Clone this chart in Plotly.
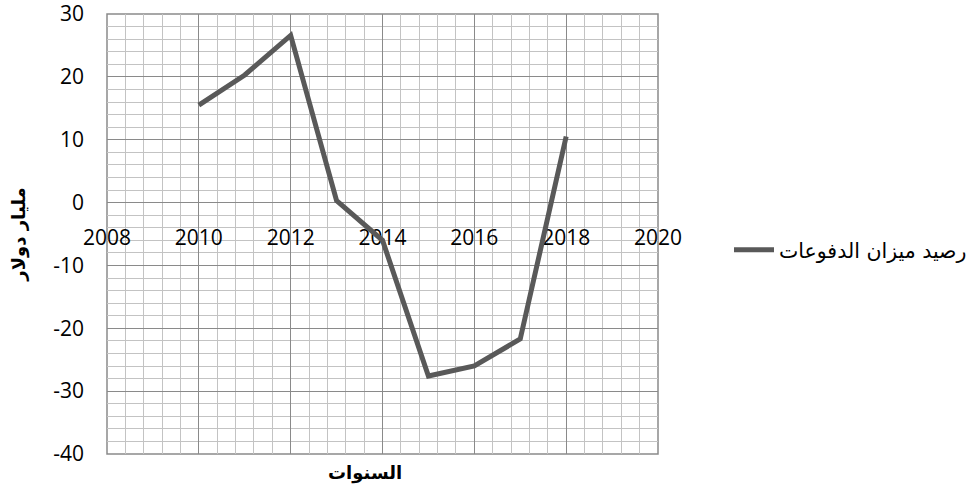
import plotly.graph_objects as go

years = [2010, 2011, 2012, 2013, 2014, 2015, 2016, 2017, 2018]
balance = [15.5, 20.3, 26.6, 0.3, -6.0, -27.6, -26.0, -21.7, 10.5]
series_name = "رصيد ميزان الدفوعات"
x_title = "السنوات"
y_title = "مليار دولار"
x_ticks = [2008, 2010, 2012, 2014, 2016, 2018, 2020]
y_ticks = [-40, -30, -20, -10, 0, 10, 20, 30]

W, H = 979, 488
L, R, T, B = 107, 321, 14, 34
PW, PH = W - L - R, H - T - B

fig = go.Figure()
fig.add_trace(go.Scatter(
    x=years, y=balance, mode="lines", name=series_name,
    line=dict(color="#595959", width=5),
    showlegend=True,
))

tick_font = dict(family="Open Sans, Lato, sans-serif", size=21, color="#000000")
major = "#8a8a8a"
minor = "#c3c3c3"

fig.update_layout(
    width=W, height=H,
    margin=dict(l=L, r=R, t=T, b=B, autoexpand=False),
    paper_bgcolor="white", plot_bgcolor="white",
    showlegend=True,
    legend=dict(
        x=(729 - L) / PW, y=(H - 250 - B) / PH,
        xanchor="left", yanchor="middle",
        font=dict(family="DejaVu Sans, sans-serif", size=20.5, color="#000"),
        bgcolor="rgba(0,0,0,0)", itemwidth=40,
    ),
    xaxis=dict(
        range=[2008, 2020], tickvals=x_ticks, ticktext=[str(v) for v in x_ticks],
        showgrid=True, gridcolor=major, gridwidth=1,
        minor=dict(dtick=0.4, tick0=2008, showgrid=True, gridcolor=minor, gridwidth=1.3),
        zeroline=False, showline=False, ticks="",
        anchor="free", position=40 / 70, side="bottom",
        tickfont=tick_font, ticklabelstandoff=20, ticklabeloverflow="allow",
        layer="below traces",
    ),
    yaxis=dict(
        range=[-40, 30], tickvals=y_ticks, ticktext=[str(v) for v in y_ticks],
        showgrid=True, gridcolor=major, gridwidth=1,
        minor=dict(dtick=2, tick0=-40, showgrid=True, gridcolor=minor, gridwidth=1.3),
        zeroline=True, zerolinecolor=major, zerolinewidth=1,
        showline=False, ticks="",
        tickfont=tick_font, ticklabelstandoff=22, ticklabeloverflow="allow",
        title=dict(text="<b>" + y_title + "</b>", standoff=22,
                   font=dict(family="DejaVu Sans, sans-serif", size=18, color="#000")),
    ),
    annotations=[dict(
        text="<b>" + x_title + "</b>", xref="paper", yref="paper",
        x=(365 - L) / PW, y=0, yshift=-19, showarrow=False,
        xanchor="center", yanchor="middle",
        font=dict(family="DejaVu Sans, sans-serif", size=18, color="#000"),
    )],
    shapes=[dict(type="rect", xref="paper", yref="paper", x0=0, x1=1, y0=0, y1=1,
                 line=dict(color=major, width=1.5), layer="below")],
)

fig.write_html("out.html", config={"displayModeBar": False},
               post_script="document.body.style.margin='0';")
